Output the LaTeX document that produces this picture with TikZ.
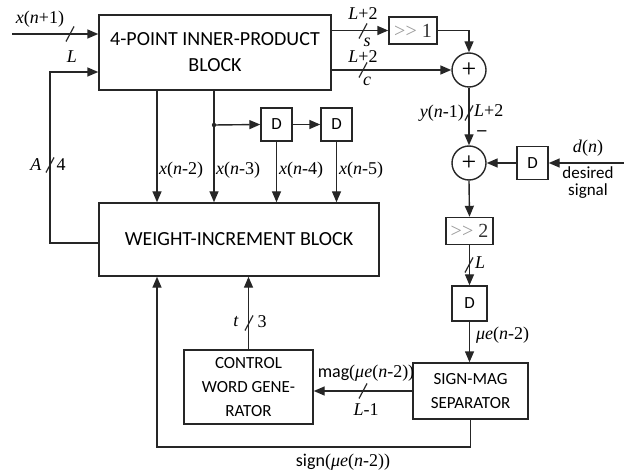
\documentclass[tikz,border=0pt]{standalone}
\usepackage{fontspec}
\setmainfont{Liberation Serif}
\newfontfamily\blkfont{Carlito}
\usetikzlibrary{arrows.meta,calc}
\tikzset{
  wire/.style={line width=1.4pt, draw=black!85},
  arr/.style={wire, -{Triangle[length=11pt,width=9pt]}},
  blk/.style={draw=black!85, line width=1.4pt, inner sep=0pt, align=center,
    font=\blkfont\fontsize{20}{26}\selectfont},
  smallblk/.style={blk, font=\blkfont\fontsize{17}{24}\selectfont},
  dbox/.style={draw=black!85, line width=1.4pt, inner sep=0pt,
    minimum width=31pt, minimum height=33pt, font=\blkfont\fontsize{17}{18}\selectfont},
  shbox/.style={draw=black!85, line width=1.4pt, inner sep=0pt,
    minimum height=27pt, font=\fontsize{20}{20}\selectfont, text=black!80},
  adder/.style={circle, draw=black!85, line width=1.4pt, minimum size=34pt,
    inner sep=0pt, font=\fontsize{26}{26}\selectfont},
  lbl/.style={inner sep=0pt, font=\fontsize{18}{18}\selectfont},
  slbl/.style={inner sep=0pt, font=\blkfont\fontsize{17}{20}\selectfont},
  pics/busmark/.style={code={\draw[wire, line width=1.2pt] (-4,7.5) -- (4,-7.5);}},
}
\newcommand\shr[1]{{\color{black!40}>{}>}\hspace{5pt}#1}
\begin{document}
\begin{tikzpicture}[x=1pt,y=-1pt]
\useasboundingbox (0,0) rectangle (624,473);

% main blocks
\node[blk, minimum width=232pt, minimum height=75pt] (ipb) at (215,52.5)
  {4-POINT INNER-PRODUCT\\BLOCK};
\node[blk, minimum width=280pt, minimum height=73pt] (wib) at (239,239.5)
  {WEIGHT-INCREMENT BLOCK};
\node[smallblk, minimum width=129pt, minimum height=74pt] (cwg) at (248.5,387)
  {CONTROL\\WORD GENE-\\RATOR};
\node[smallblk, minimum width=115pt, minimum height=56pt] (smg) at (470.5,391)
  {SIGN-MAG\\SEPARATOR};

% delays, shifters, adders
\node[dbox] (d1) at (276.5,124.5) {D};
\node[dbox] (d2) at (336.5,124.5) {D};
\node[dbox] (dd) at (532.5,163) {D};
\node[dbox, minimum width=35pt, minimum height=35pt] (d3) at (469.5,303.5) {D};
\node[shbox, minimum width=48pt] (sh1) at (413,30.5) {\shr{1}};
\node[shbox, minimum width=47pt] (sh2) at (469.5,231) {\shr{2}};
\node[adder] (add1) at (469,70) {+};
\node[adder] (add2) at (469,163) {+};

% helper coordinates
\coordinate (xin) at (12,34);
\coordinate (fbt) at (50,72);
\coordinate (fbb) at (50,243);
\coordinate (t2) at (157,0);
\coordinate (t3) at (214,0);
\coordinate (tap) at (214,125);
\coordinate (din) at (624,163);
\coordinate (sg) at (157,447);

% input and feedback into the inner-product block
\draw[arr] (xin) -- (xin -| ipb.west);
\pic at (70,34) {busmark};
\node[lbl] (lxin) at (40,19) {\textit{x}(\textit{n}+1)};
\node[lbl] (lL) at (72,57) {\textit{L}};
\draw[arr] (wib.west |- fbb) -- (fbb) -- (fbt) -- (fbt -| ipb.west);
\pic at (50,165) {busmark};
\node[lbl] (lA) at (36,165) {\textit{A}};
\node[lbl] (l4) at (61,165) {4};

% sum / carry outputs
\draw[arr] (ipb.east |- sh1) -- (sh1.west);
\pic at (363,31) {busmark};
\node[lbl] (ls1) at (363,14) {\textit{L}+2};
\node[lbl] (ls2) at (367,42) {\textit{s}};
\draw[arr] (sh1.east) -| (add1.north);
\draw[arr] (ipb.east |- add1) -- (add1.west);
\pic at (363,70) {busmark};
\node[lbl] (lc1) at (363,57) {\textit{L}+2};
\node[lbl] (lc2) at (367,81) {\textit{c}};

% error path
\draw[arr] (add1.south) -- (add2.north);
\pic at (469,113) {busmark};
\node[lbl, anchor=east] (ly) at (464,113) {\textit{y}(\textit{n}-1)};
\node[lbl, anchor=west] (lyL) at (474,111) {\textit{L}+2};
\node[lbl] (lminus) at (482,133) {\textbf{--}};
\draw[arr] (din) -- (dd.east);
\node[lbl] (ldn) at (588,148) {\textit{d}(\textit{n})};
\node[slbl, align=center] (lds) at (588,183) {desired\\[-3pt]signal};
\draw[arr] (dd.west) -- (add2.east);
\draw[arr] (add2.south) -- (sh2.north);
\draw[arr] (sh2.south) -- (d3.north);
\pic at (469,265) {busmark};
\node[lbl, anchor=west] (lL2) at (475,263) {\textit{L}};
\draw[arr] (d3.south) -- (d3.south |- smg.north);
\node[lbl, anchor=west] (lmu) at (476,335) {\textit{μe}(\textit{n}-2)};

% sign / magnitude outputs
\draw[arr] (smg.west) -- (smg.west -| cwg.east);
\pic at (363,391) {busmark};
\node[lbl] (lmag) at (366,373) {{\blkfont mag}(\textit{μe}(\textit{n}-2))};
\node[lbl] (lL1) at (366,410) {\textit{L}-1};
\draw[arr] (cwg.north) -- (cwg.north |- wib.south);
\pic at (249,323) {busmark};
\node[lbl] (lt) at (236,322) {\textit{t}};
\node[lbl] (l3) at (262,322) {3};
\draw[arr] (smg.south) |- (sg) -- (sg |- wib.south);
\node[lbl] (lsign) at (343,462) {{\blkfont sign}(\textit{μe}(\textit{n}-2))};

% data taps into the weight-increment block
\draw[arr] (ipb.south -| t2) -- (wib.north -| t2);
\draw[arr] (ipb.south -| t3) -- (wib.north -| t3);
\fill[black!85] (tap) circle (2.2pt);
\draw[arr] (tap) -- (d1.west);
\draw[arr] (d1.east) -- (d2.west);
\draw[arr] (d1.south) -- (d1.south |- wib.north);
\draw[arr] (d2.south) -- (d2.south |- wib.north);
\node[lbl, anchor=west] (lx2) at (159,170) {\textit{x}(\textit{n}-2)};
\node[lbl, anchor=west] (lx3) at (216,170) {\textit{x}(\textit{n}-3)};
\node[lbl, anchor=west] (lx4) at (279,170) {\textit{x}(\textit{n}-4)};
\node[lbl, anchor=west] (lx5) at (339,170) {\textit{x}(\textit{n}-5)};
\end{tikzpicture}
\end{document}
